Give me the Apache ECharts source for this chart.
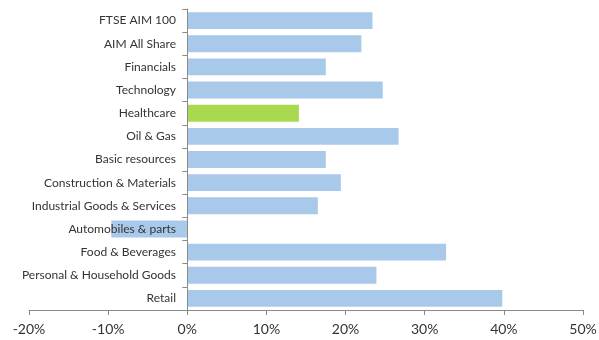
<!DOCTYPE html>
<html><head><meta charset="utf-8">
<script src="https://cdn.jsdelivr.net/npm/echarts@6/dist/echarts.min.js"></script>
<style>html,body{margin:0;padding:0;background:#fff}#c{width:599px;height:340px}</style>
</head><body><div id="c"></div>
<script>
const categories = ["FTSE AIM 100","AIM All Share","Financials","Technology","Healthcare","Oil & Gas","Basic resources","Construction & Materials","Industrial Goods & Services","Automobiles & parts","Food & Beverages","Personal & Household Goods","Retail"];
const values = [23.4, 22.0, 17.5, 24.7, 14.1, 26.7, 17.5, 19.4, 16.5, -9.6, 32.7, 23.9, 39.8];
const highlight = "Healthcare";
const xTicks = [-20, -10, 0, 10, 20, 30, 40, 50];

const chart = echarts.init(document.getElementById('c'), null, {renderer:'canvas'});
chart.setOption({
  animation: false,
  grid: {left: 29, right: 16, top: 9, bottom: 30, containLabel: false, outerBoundsMode: 'none'},
  xAxis: {
    type: 'value', min: xTicks[0], max: xTicks[xTicks.length-1], interval: 10,
    axisLine: {show: true, lineStyle: {color: '#8a8a8a', width: 1}},
    axisTick: {show: true, length: 5, lineStyle: {color: '#8a8a8a'}},
    splitLine: {show: false},
    axisLabel: {formatter: v => v + '%', color: '#333', fontFamily: 'Lato', fontSize: 14, margin: 12}
  },
  yAxis: {
    type: 'category', data: categories, inverse: true,
    position: 'left', z: 5,
    axisLine: {show: true, onZero: true, lineStyle: {color: '#8a8a8a', width: 1}},
    axisTick: {show: true, length: 5, lineStyle: {color: '#8a8a8a'}},
    axisLabel: {color: '#333', fontFamily: 'Lato', fontSize: 12, margin: -147}
  },
  series: [{
    type: 'bar',
    data: values.map((v, i) => ({value: v, itemStyle: {color: categories[i] === highlight ? '#a8d94e' : '#a9c9ea'}})),
    barCategoryGap: '27%'
  }]
});
</script></body></html>
